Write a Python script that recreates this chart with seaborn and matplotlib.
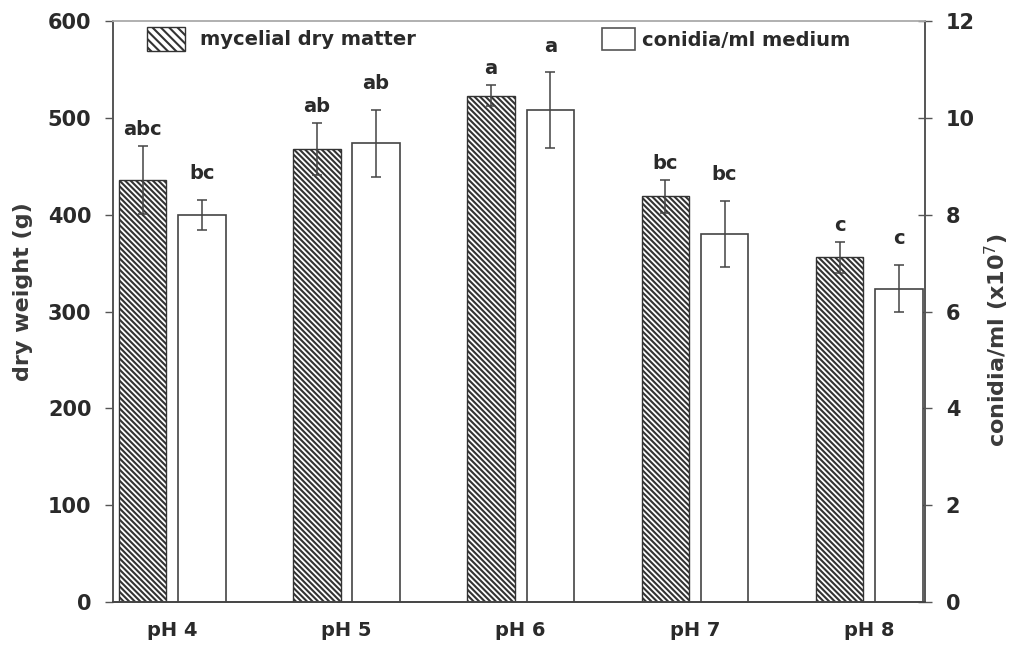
import numpy as np
import pandas as pd
import matplotlib
matplotlib.use("Agg")
import matplotlib.pyplot as plt
import seaborn as sns
from matplotlib.patches import Patch

categories = ["pH 4", "pH 5", "pH 6", "pH 7", "pH 8"]
series = ["mycelial dry matter", "conidia/ml medium"]
mycelial = [436, 468, 523, 419, 356]
mycelial_err = [35, 27, 11, 17, 16]
conidia = [8.0, 9.47, 10.16, 7.6, 6.47]
conidia_err = [0.31, 0.70, 0.78, 0.69, 0.49]
mycelial_letters = ["abc", "ab", "a", "bc", "c"]
conidia_letters = ["bc", "ab", "a", "bc", "c"]
left_ticks = [0, 100, 200, 300, 400, 500, 600]
right_ticks = [0, 2, 4, 6, 8, 10, 12]

sns.set_theme(style="white")
plt.rcParams['font.family'] = ['DejaVu Sans']
plt.rcParams['hatch.color'] = '#333333'
plt.rcParams['hatch.linewidth'] = 1.5

TXT = '#2a2a2a'
FS = 14
TFS = 15
LFS = 16
HATCH = '\\\\\\\\\\\\'

fig = plt.figure(figsize=(10.15, 6.48), dpi=100)
ax = fig.add_axes([113/1015, 46/648, (925-113)/1015, (602-21)/648])
ax2 = ax.twinx()

n = len(categories)
# long table: each axis gets its own series, the other one left empty (NaN) so dodge keeps both slots
df_left = pd.DataFrame({
    "pH": categories * 2,
    "series": [series[0]] * n + [series[1]] * n,
    "value": list(mycelial) + [np.nan] * n,
})
df_right = pd.DataFrame({
    "pH": categories * 2,
    "series": [series[0]] * n + [series[1]] * n,
    "value": [np.nan] * n + list(conidia),
})

sns.barplot(data=df_left, x="pH", y="value", hue="series", hue_order=series,
            order=categories, width=0.68, gap=0.2, ax=ax,
            palette=["white", "white"], edgecolor="#333333", linewidth=1.0,
            errorbar=None, legend=False, saturation=1)
sns.barplot(data=df_right, x="pH", y="value", hue="series", hue_order=series,
            order=categories, width=0.68, gap=0.2, ax=ax2,
            palette=["white", "white"], edgecolor="#444444", linewidth=1.2,
            errorbar=None, legend=False, saturation=1)

def real_patches(axis):
    ps = [p for p in axis.patches if np.isfinite(p.get_height()) and p.get_height() > 0]
    return sorted(ps, key=lambda p: p.get_x())

for p in real_patches(ax):
    p.set_hatch(HATCH)

def add_err(axis, vals, errs, letters, offset):
    for p, v, e, l in zip(real_patches(axis), vals, errs, letters):
        xc = p.get_x() + p.get_width() / 2
        axis.errorbar(xc, v, yerr=e, fmt='none', ecolor='#444444',
                      elinewidth=1.1, capsize=3.5, capthick=1.1, zorder=5)
        axis.annotate(l, (xc, v + e), xytext=(0, offset), textcoords='offset points',
                      ha='center', va='bottom', fontsize=FS, fontweight='bold',
                      color=TXT)

add_err(ax, mycelial, mycelial_err, mycelial_letters, 5)
add_err(ax2, conidia, conidia_err, conidia_letters, 12)

ax.set_xlim(-0.34, 4.32)
ax.set_ylim(0, 600)
ax2.set_ylim(0, 12)
ax.set_yticks(left_ticks)
ax2.set_yticks(right_ticks)
ax.set_xlabel("")
ax2.set_xlabel("")
ax.set_ylabel("dry weight (g)", fontsize=LFS, fontweight='bold', color='#3a3a3a')
ax2.set_ylabel("conidia/ml (x10$^{7}$)", fontsize=LFS, fontweight='bold', color='#3a3a3a')
ax.yaxis.set_label_coords(-0.099, 0.534)
ax2.yaxis.set_label_coords(1.071, 0.45)

for a in (ax, ax2):
    for lab in a.get_yticklabels():
        lab.set_fontweight('bold')
        lab.set_fontsize(TFS)
        lab.set_color(TXT)
    for lab in a.get_xticklabels():
        lab.set_fontweight('bold')
        lab.set_fontsize(FS)
        lab.set_color(TXT)
ax.tick_params(axis='y', direction='out', length=5.5, width=1, color='#555555', pad=10)
ax2.tick_params(axis='y', direction='inout', length=10, width=1, color='#555555', pad=10)
ax.tick_params(axis='x', length=0, pad=14)

for a in (ax, ax2):
    a.spines['top'].set_color('#b0b0b0')
    a.spines['left'].set_color('#555555')
    a.spines['right'].set_color('#555555')
    a.spines['bottom'].set_color('#444444')
    for s in a.spines.values():
        s.set_linewidth(1.2)

h1 = [Patch(facecolor='white', edgecolor='#333333', hatch='\\\\\\\\', linewidth=1.0)]
leg1 = ax2.legend(h1, [series[0]], loc='center left', bbox_to_anchor=(0.042, 0.969),
                  frameon=False, borderpad=0, borderaxespad=0, handlelength=1.95,
                  handleheight=1.45, handletextpad=0.75,
                  prop={'size': FS, 'weight': 'bold'})
for t in leg1.get_texts():
    t.set_color(TXT)
ax2.add_artist(leg1)
h2 = [Patch(facecolor='white', edgecolor='#555555', linewidth=1.2)]
leg2 = ax2.legend(h2, [series[1]], loc='center left', bbox_to_anchor=(0.602, 0.969),
                  frameon=False, borderpad=0, borderaxespad=0, handlelength=1.7,
                  handleheight=1.35, handletextpad=0.35,
                  prop={'size': FS, 'weight': 'bold'})
for t in leg2.get_texts():
    t.set_color(TXT)

fig.savefig("out.png", dpi=100)
